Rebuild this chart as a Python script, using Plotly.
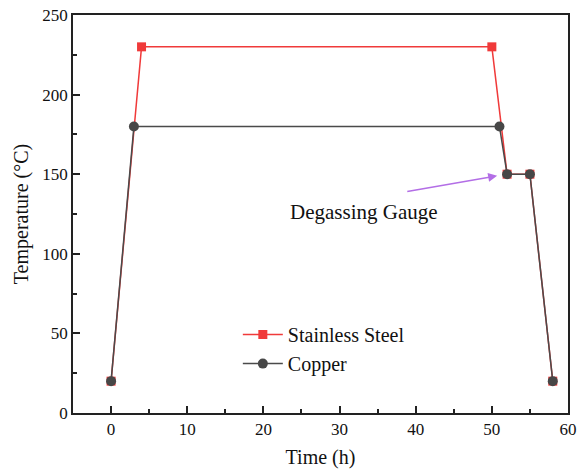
import plotly.graph_objects as go

steel_x = [0, 4, 50, 52, 55, 58]
steel_y = [20, 230, 230, 150, 150, 20]
copper_x = [0, 3, 51, 52, 55, 58]
copper_y = [20, 180, 180, 150, 150, 20]

FONT = "Times New Roman"

fig = go.Figure()
fig.add_trace(go.Scatter(x=steel_x, y=steel_y, mode="lines+markers", name="Stainless Steel",
                         line=dict(color="#f03a3a", width=1.5),
                         marker=dict(symbol="square", size=9, color="#f03a3a")))
fig.add_trace(go.Scatter(x=copper_x, y=copper_y, mode="lines+markers", name="Copper",
                         line=dict(color="#4a4a4a", width=1.5),
                         marker=dict(symbol="circle", size=10, color="#474747")))

fig.add_annotation(x=50.7, y=149, ax=38.7, ay=139, axref="x", ayref="y",
                   xref="x", yref="y", text="", showarrow=True, arrowhead=2,
                   arrowsize=1.2, arrowwidth=1.5, arrowcolor="#b36ee6")
fig.add_annotation(x=33.2, y=126, xref="x", yref="y", text="Degassing Gauge",
                   showarrow=False, font=dict(family=FONT, size=21, color="#111"))

axis_common = dict(showline=True, linecolor="#222", linewidth=1.5, mirror=True,
                   ticks="inside", ticklen=7, tickcolor="#222", tickwidth=1.5,
                   showgrid=False, zeroline=False, automargin=False,
                   tickfont=dict(family=FONT, size=17, color="#111"))
fig.update_xaxes(range=[-5, 60], dtick=10, tick0=0,
                 minor=dict(dtick=5, ticks="inside", ticklen=4, tickcolor="#222", tickwidth=1.5),
                 title=dict(text="Time (h)", font=dict(family=FONT, size=20, color="#111"), standoff=16),
                 **axis_common)
fig.update_yaxes(range=[0, 250], dtick=50, tick0=0,
                 minor=dict(dtick=25, ticks="inside", ticklen=4, tickcolor="#222", tickwidth=1.5),
                 title=dict(text="Temperature (°C)", font=dict(family=FONT, size=20, color="#111"), standoff=8),
                 **axis_common)

fig.update_layout(width=583, height=469, margin=dict(l=73, r=15, t=15, b=56, autoexpand=False),
                  plot_bgcolor="white", paper_bgcolor="white",
                  legend=dict(x=0.333, y=0.246, xanchor="left", yanchor="top",
                              bgcolor="rgba(0,0,0,0)", font=dict(family=FONT, size=20, color="#111"),
                              itemwidth=40, tracegroupgap=0),
                  font=dict(family=FONT))
fig.write_html("out.html")
